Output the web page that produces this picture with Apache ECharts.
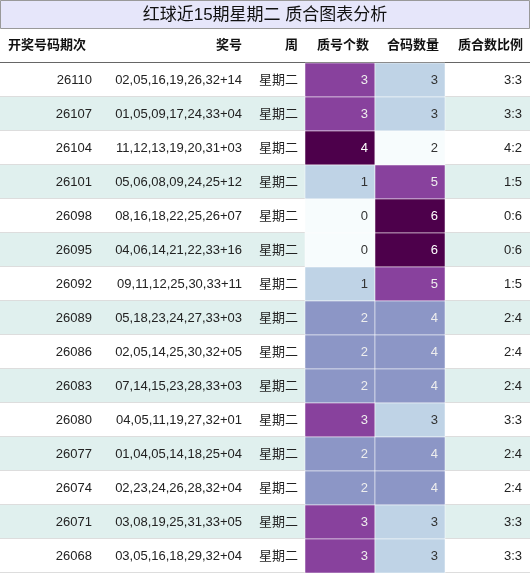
<!DOCTYPE html>
<html><head><meta charset="utf-8">
<script src="https://cdn.jsdelivr.net/npm/echarts@6/dist/echarts.min.js"></script>
<style>html,body{margin:0;padding:0;background:#fff}#c{width:530px;height:575px}</style>
</head><body><div id="c"></div>
<script>
const title = '红球近15期星期二 质合图表分析';
const headers = ['开奖号码期次','奖号','周','质号个数','合码数量','质合数比例'];
const issues = ['26110','26107','26104','26101','26098','26095','26092','26089','26086','26083','26080','26077','26074','26071','26068'];
const numbers = ['02,05,16,19,26,32+14','01,05,09,17,24,33+04','11,12,13,19,20,31+03','05,06,08,09,24,25+12','08,16,18,22,25,26+07','04,06,14,21,22,33+16','09,11,12,25,30,33+11','05,18,23,24,27,33+03','02,05,14,25,30,32+05','07,14,15,23,28,33+03','04,05,11,19,27,32+01','01,04,05,14,18,25+04','02,23,24,26,28,32+04','03,08,19,25,31,33+05','03,05,16,18,29,32+04'];
const weekday = '星期二';
const primeCount = [3,3,4,1,0,0,1,2,2,2,3,2,2,3,3];
const compositeCount = [3,3,2,5,6,6,5,4,4,4,3,4,4,3,3];
const ratios = ['3:3','3:3','4:2','1:5','0:6','0:6','1:5','2:4','2:4','2:4','3:3','2:4','2:4','3:3','3:3'];

const edges = [0,98,248,305,375,445,530];
const palette = ['#f7fcfd','#bfd3e6','#8c96c6','#88419d','#4d004b'];
const textCol = ['#333','#333','#eeeeee','#eeeeee','#ffffff'];
const pMin = Math.min(...primeCount), cMin = Math.min(...compositeCount);
const FF = '"Liberation Sans","Noto Sans CJK SC",sans-serif';

const chart = echarts.init(document.getElementById('c'));
const hdrY = 45;
const hdrFont = {fontSize:13,fontWeight:'bold',fill:'#111',fontFamily:FF};
chart.setOption({
  animation:false,
  grid:{left:0,right:0,top:63,bottom:2},
  xAxis:{type:'value',min:0,max:530,show:false},
  yAxis:{type:'category',data:issues,inverse:true,show:false},
  graphic:[
    {type:'rect',shape:{x:0.5,y:0.5,width:529,height:28},style:{fill:'#e6e6fa',stroke:'#999',lineWidth:1}},
    {type:'text',x:265,y:15,style:{text:title,fontSize:17,fill:'#111',align:'center',verticalAlign:'middle',fontFamily:FF}},
    {type:'text',x:8,y:hdrY,style:Object.assign({text:headers[0],align:'left',verticalAlign:'middle'},hdrFont)},
    {type:'text',x:242,y:hdrY,style:Object.assign({text:headers[1],align:'right',verticalAlign:'middle'},hdrFont)},
    {type:'text',x:298,y:hdrY,style:Object.assign({text:headers[2],align:'right',verticalAlign:'middle'},hdrFont)},
    {type:'text',x:369,y:hdrY,style:Object.assign({text:headers[3],align:'right',verticalAlign:'middle'},hdrFont)},
    {type:'text',x:439,y:hdrY,style:Object.assign({text:headers[4],align:'right',verticalAlign:'middle'},hdrFont)},
    {type:'text',x:523,y:hdrY,style:Object.assign({text:headers[5],align:'right',verticalAlign:'middle'},hdrFont)},
    {type:'line',shape:{x1:0,y1:62.5,x2:530,y2:62.5},style:{stroke:'#666',lineWidth:1}}
  ],
  series:[{
    type:'custom',
    data:issues.map((d,i)=>[i]),
    renderItem:function(params,api){
      const i = api.value(0);
      const top = api.coord([0,i])[1] - api.size([0,1])[1]/2;
      const h = api.size([0,1])[1];
      const X = e=>api.coord([e,i])[0];
      const cy = top + h/2;
      const bg = i%2===0 ? '#ffffff' : '#e0f0ee';
      const font = {fontSize:13,fill:'#222',fontFamily:FF,verticalAlign:'middle'};
      const kids = [
        {type:'rect',shape:{x:X(0),y:top,width:X(530)-X(0),height:h},style:{fill:bg}},
        {type:'line',shape:{x1:X(0),y1:top+h-0.5,x2:X(530),y2:top+h-0.5},style:{stroke:'#ddd',lineWidth:1}}
      ];
      const pi = primeCount[i]-pMin, ci = compositeCount[i]-cMin;
      kids.push({type:'rect',shape:{x:X(edges[3]),y:top,width:X(edges[4])-X(edges[3]),height:h},style:{fill:palette[pi],stroke:'#fff',lineWidth:0.5}});
      kids.push({type:'rect',shape:{x:X(edges[4]),y:top,width:X(edges[5])-X(edges[4]),height:h},style:{fill:palette[ci],stroke:'#fff',lineWidth:0.5}});
      kids.push({type:'text',x:X(edges[1])-6,y:cy,style:Object.assign({},font,{text:issues[i],align:'right'})});
      kids.push({type:'text',x:X(edges[2])-6,y:cy,style:Object.assign({},font,{text:numbers[i],align:'right'})});
      kids.push({type:'text',x:X(edges[3])-7,y:cy,style:Object.assign({},font,{text:weekday,align:'right'})});
      kids.push({type:'text',x:X(edges[4])-7,y:cy,style:Object.assign({},font,{text:String(primeCount[i]),align:'right',fill:textCol[pi]})});
      kids.push({type:'text',x:X(edges[5])-7,y:cy,style:Object.assign({},font,{text:String(compositeCount[i]),align:'right',fill:textCol[ci]})});
      kids.push({type:'text',x:X(edges[6])-8,y:cy,style:Object.assign({},font,{text:ratios[i],align:'right'})});
      return {type:'group',children:kids};
    }
  }]
});
</script></body></html>
